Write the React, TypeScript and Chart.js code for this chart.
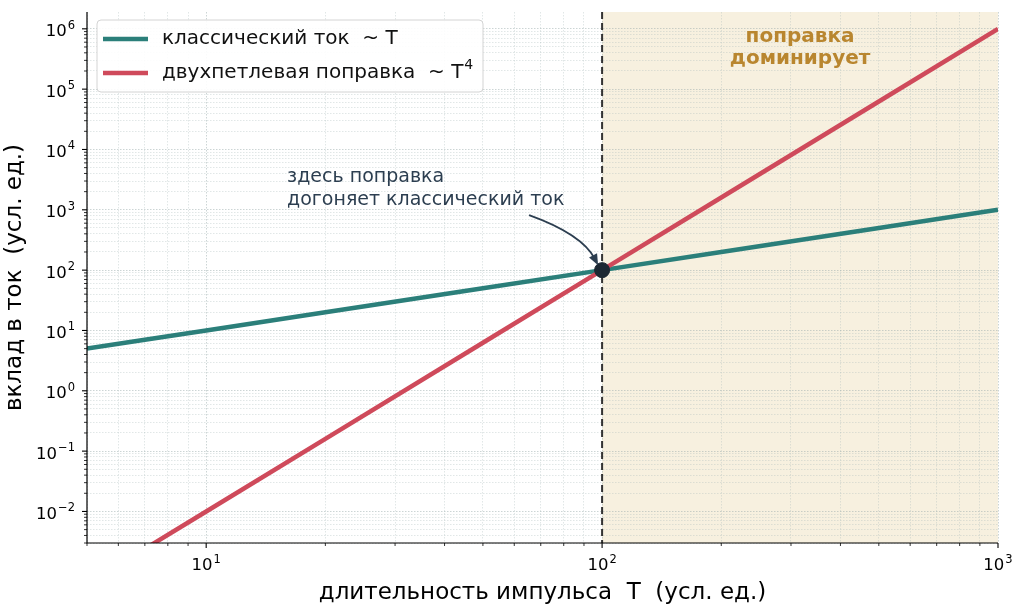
import { useEffect, useRef } from "react";
import Chart from "chart.js/auto";

// pulse duration T and the two contributions
const pulseT = [5, 7, 10, 20, 50, 100, 200, 500, 1000];
const classicCurrent = [5, 7, 10, 20, 50, 100, 200, 500, 1000];
const twoLoopCorrection = [0.000625, 0.0024, 0.01, 0.16, 6.25, 100, 1600, 62500, 1000000];
const crossingPoint = [{ x: 100, y: 100 }];
const dominanceSpan = [100, 1000];

const seriesLabels = ["классический ток  ~ T", "двухпетлевая поправка  ~ T"];
const seriesSup = ["", "4"];
const spanText = ["поправка", "доминирует"];
const noteText = ["здесь поправка", "догоняет классический ток"];

const xRange = [5, 1000];
const yRange = [0.003, 1.9e6];
const xDecades = [10, 100, 1000];
const xExponents = ["1", "2", "3"];
const yDecades = [0.01, 0.1, 1, 10, 100, 1000, 10000, 100000, 1000000];
const yExponents = ["−2", "−1", "0", "1", "2", "3", "4", "5", "6"];
const minorSteps = [2, 3, 4, 5, 6, 7, 8, 9];

const TEAL = "#2b7f7a";
const RED = "#cf4a5b";
const SHADE = "#f7f0df";
const GOLD = "#b9862f";
const INK = "#2c3e50";
const FONT = "DejaVu Sans";

function buildTicks(decades: number[], range: number[]) {
  const out: { value: number; major: boolean }[] = [];
  const first = decades[0] / 10;
  [first, ...decades].forEach((d) => {
    if (d >= range[0] && d <= range[1] && decades.includes(d)) out.push({ value: d, major: true });
    minorSteps.forEach((s) => {
      const v = d * s;
      if (v >= range[0] * 0.999 && v <= range[1]) out.push({ value: v, major: false });
    });
  });
  return out.sort((a, b) => a.value - b.value);
}

// "10" with a raised exponent, like mathtext
function powerLabel(ctx: CanvasRenderingContext2D, exp: string, x: number, baseline: number, align: "right" | "center") {
  ctx.font = `16.5px "${FONT}"`;
  const wb = ctx.measureText("10").width;
  ctx.font = `11.5px "${FONT}"`;
  const we = ctx.measureText(exp).width;
  const total = wb + 1 + we;
  const left = align === "right" ? x - total : x - total / 2;
  ctx.textAlign = "left";
  ctx.textBaseline = "alphabetic";
  ctx.font = `16.5px "${FONT}"`;
  ctx.fillText("10", left, baseline);
  ctx.font = `11.5px "${FONT}"`;
  ctx.fillText(exp, left + wb + 1, baseline - 7.5);
}

const decor = {
  id: "decor",
  beforeDraw(chart: any) {
    const { ctx, chartArea: a, scales } = chart;
    const x0 = scales.x.getPixelForValue(dominanceSpan[0]);
    const x1 = scales.x.getPixelForValue(dominanceSpan[1]);
    ctx.save();
    ctx.fillStyle = "#fff";
    ctx.fillRect(0, 0, chart.width, chart.height);
    ctx.fillStyle = SHADE;
    ctx.fillRect(x0, a.top, x1 - x0, a.bottom - a.top);
    ctx.restore();
  },
  beforeDatasetsDraw(chart: any) {
    const { ctx, chartArea: a, scales } = chart;
    const xv = scales.x.getPixelForValue(crossingPoint[0].x);
    ctx.save();
    ctx.strokeStyle = "#333";
    ctx.lineWidth = 2;
    ctx.setLineDash([7, 4]);
    ctx.beginPath();
    ctx.moveTo(xv, a.top);
    ctx.lineTo(xv, a.bottom);
    ctx.stroke();
    ctx.restore();
  },
  afterDraw(chart: any) {
    const { ctx, chartArea: a, scales } = chart;
    const { x, y } = scales;
    ctx.save();

    // spines, tick marks and tick labels
    ctx.strokeStyle = "#000";
    ctx.fillStyle = "#000";
    ctx.lineWidth = 1.2;
    ctx.beginPath();
    ctx.moveTo(a.left, a.top);
    ctx.lineTo(a.left, a.bottom);
    ctx.lineTo(a.right, a.bottom);
    ctx.stroke();
    y.ticks.forEach((t: any) => {
      const py = y.getPixelForValue(t.value);
      ctx.lineWidth = t.major ? 1.1 : 0.8;
      ctx.beginPath();
      ctx.moveTo(a.left, py);
      ctx.lineTo(a.left - (t.major ? 5 : 3), py);
      ctx.stroke();
      if (t.major) powerLabel(ctx, yExponents[yDecades.indexOf(t.value)], a.left - 12, py + 7.5, "right");
    });
    x.ticks.forEach((t: any) => {
      const px = x.getPixelForValue(t.value);
      ctx.lineWidth = t.major ? 1.1 : 0.8;
      ctx.beginPath();
      ctx.moveTo(px, a.bottom);
      ctx.lineTo(px, a.bottom + (t.major ? 5 : 3));
      ctx.stroke();
      if (t.major) powerLabel(ctx, xExponents[xDecades.indexOf(t.value)], px, a.bottom + 27, "center");
    });

    // text over the shaded span
    const sx = x.getPixelForValue(Math.sqrt(dominanceSpan[0] * dominanceSpan[1]));
    ctx.fillStyle = GOLD;
    ctx.font = `bold 20px "${FONT}"`;
    ctx.textAlign = "center";
    ctx.textBaseline = "middle";
    ctx.fillText(spanText[0], sx, a.top + 25);
    ctx.fillText(spanText[1], sx, a.top + 47);

    // annotation with curved arrow
    const px = x.getPixelForValue(crossingPoint[0].x);
    const py = y.getPixelForValue(crossingPoint[0].y);
    ctx.fillStyle = INK;
    ctx.font = `19px "${FONT}"`;
    ctx.textAlign = "left";
    ctx.fillText(noteText[0], px - 315, py - 93);
    ctx.fillText(noteText[1], px - 315, py - 70);

    const sxA = px - 73, syA = py - 55;
    const cx = px - 20, cy = py - 36;
    const tx = px - 4, ty = py - 5;
    ctx.strokeStyle = INK;
    ctx.lineWidth = 1.8;
    ctx.beginPath();
    ctx.moveTo(sxA, syA);
    ctx.quadraticCurveTo(cx, cy, tx - 3, ty - 6);
    ctx.stroke();
    const ang = Math.atan2(ty - cy, tx - cx);
    ctx.beginPath();
    ctx.moveTo(tx, ty);
    ctx.lineTo(tx - 11 * Math.cos(ang) + 4.5 * Math.sin(ang), ty - 11 * Math.sin(ang) - 4.5 * Math.cos(ang));
    ctx.lineTo(tx - 11 * Math.cos(ang) - 4.5 * Math.sin(ang), ty - 11 * Math.sin(ang) + 4.5 * Math.cos(ang));
    ctx.closePath();
    ctx.fillStyle = INK;
    ctx.fill();

    // legend
    const lx = a.left + 10, ly = a.top + 8, lw = 386, lh = 72;
    ctx.fillStyle = "rgba(255,255,255,0.9)";
    ctx.strokeStyle = "#d4d4d4";
    ctx.lineWidth = 1;
    ctx.beginPath();
    ctx.roundRect(lx, ly, lw, lh, 4);
    ctx.fill();
    ctx.stroke();
    ctx.textAlign = "left";
    ctx.textBaseline = "middle";
    chart.data.datasets.slice(0, 2).forEach((ds: any, i: number) => {
      const rowY = ly + 19 + i * 34;
      ctx.strokeStyle = ds.borderColor;
      ctx.lineWidth = 4.5;
      ctx.beginPath();
      ctx.moveTo(lx + 6, rowY);
      ctx.lineTo(lx + 51, rowY);
      ctx.stroke();
      ctx.fillStyle = "#111";
      ctx.font = `20px "${FONT}"`;
      ctx.fillText(seriesLabels[i], lx + 65, rowY);
      if (seriesSup[i]) {
        const w = ctx.measureText(seriesLabels[i]).width;
        ctx.font = `14px "${FONT}"`;
        ctx.fillText(seriesSup[i], lx + 66 + w, rowY - 8);
      }
    });
    ctx.restore();
  },
};

export default function App() {
  const canvasRef = useRef<HTMLCanvasElement>(null);

  useEffect(() => {
    const ctx = canvasRef.current?.getContext("2d");
    if (!ctx) return;
    Chart.defaults.font.family = FONT;
    Chart.defaults.color = "#000";

    const xTicks = buildTicks(xDecades, xRange);
    const yTicks = buildTicks(yDecades, yRange);

    const gridColor = (c: any) =>
      c.tick && c.tick.major ? "rgba(150,170,170,0.55)" : "rgba(170,185,185,0.5)";
    const gridWidth = (c: any) => (c.tick && c.tick.major ? 0.9 : 0.7);

    const chart = new Chart(ctx, {
      type: "scatter",
      data: {
        datasets: [
          {
            label: seriesLabels[0],
            data: pulseT.map((t, i) => ({ x: t, y: classicCurrent[i] })),
            borderColor: TEAL,
            backgroundColor: TEAL,
            borderWidth: 4.5,
            showLine: true,
            pointRadius: 0,
            clip: 0,
            order: 3,
          },
          {
            label: seriesLabels[1] + "⁴",
            data: pulseT.map((t, i) => ({ x: t, y: twoLoopCorrection[i] })),
            borderColor: RED,
            backgroundColor: RED,
            borderWidth: 4.5,
            showLine: true,
            pointRadius: 0,
            clip: 0,
            order: 2,
          },
          {
            label: "crossing",
            data: crossingPoint,
            backgroundColor: "#1c2833",
            borderColor: "#1c2833",
            pointRadius: 7.5,
            showLine: false,
            order: 1,
          },
        ],
      },
      options: {
        responsive: false,
        animation: false,
        layout: { padding: { top: 12, right: 24, left: 0, bottom: 0 } },
        plugins: { legend: { display: false }, tooltip: { enabled: false } },
        scales: {
          x: {
            type: "logarithmic",
            min: xRange[0],
            max: xRange[1],
            afterFit: (s: any) => {
              s.height = 69;
              s.paddingLeft = 0;
              s.paddingRight = 0;
            },
            afterBuildTicks: (s: any) => {
              s.ticks = xTicks.map((t) => ({ ...t }));
            },
            grid: { color: gridColor, lineWidth: gridWidth, drawTicks: false },
            border: { display: false, dash: [1.5, 1.5] },
            ticks: { display: false, autoSkip: false },
            title: {
              display: true,
              text: "длительность импульса  T  (усл. ед.)",
              font: { size: 23 },
              padding: { bottom: 5, top: 0 },
            },
          },
          y: {
            type: "logarithmic",
            min: yRange[0],
            max: yRange[1],
            afterFit: (s: any) => {
              s.width = 87;
              s.paddingTop = 0;
              s.paddingBottom = 0;
            },
            afterBuildTicks: (s: any) => {
              s.ticks = yTicks.map((t) => ({ ...t }));
            },
            grid: { color: gridColor, lineWidth: gridWidth, drawTicks: false },
            border: { display: false, dash: [1.5, 1.5] },
            ticks: { display: false, autoSkip: false },
            title: {
              display: true,
              text: "вклад в ток  (усл. ед.)",
              font: { size: 23 },
              padding: { top: 1, bottom: 0 },
            },
          },
        },
      },
      plugins: [decor],
    });

    return () => {
      chart.destroy();
    };
  }, []);

  return (
    <div style={{ position: "fixed", left: 0, top: 0, width: 1022, height: 612, background: "#fff" }}>
      <canvas ref={canvasRef} width={1022} height={612} />
    </div>
  );
}
